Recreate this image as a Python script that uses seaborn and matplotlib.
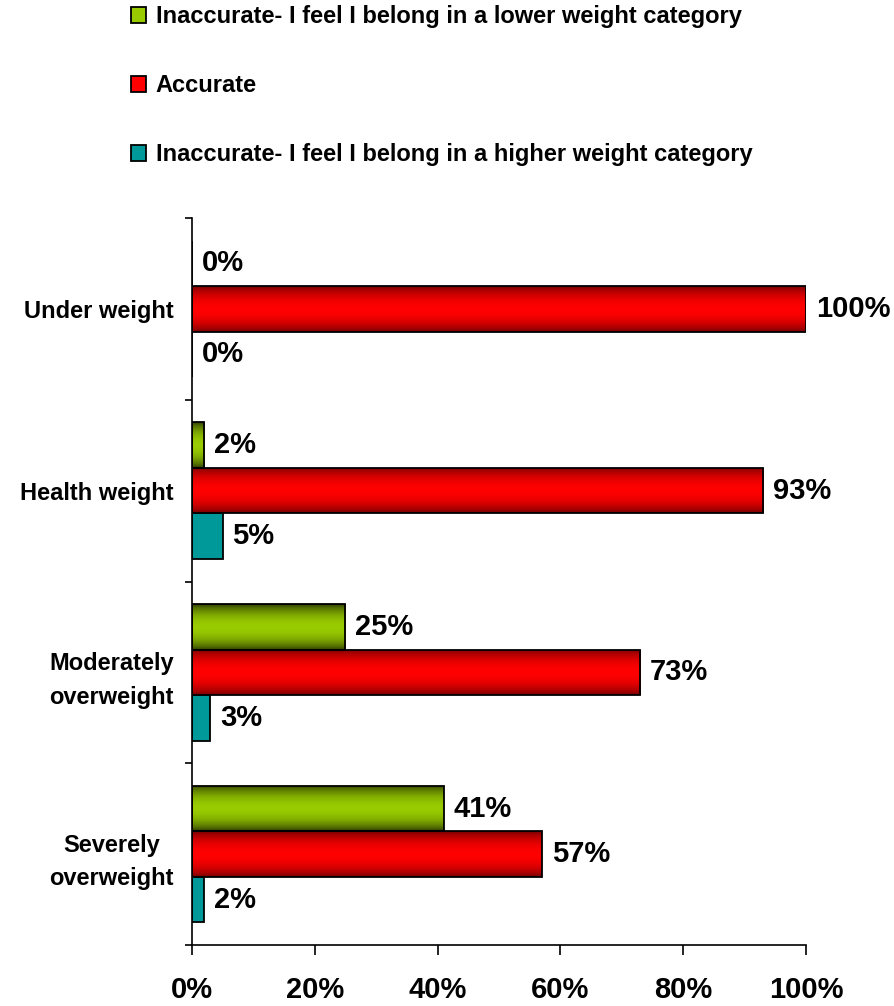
import numpy as np
import pandas as pd
import matplotlib
matplotlib.use('Agg')
import matplotlib.pyplot as plt
from matplotlib.patches import Patch
from matplotlib.ticker import FuncFormatter, FixedLocator
import seaborn as sns

# Data (percent of respondents)
categories = ['Under weight', 'Health weight', 'Moderately\noverweight', 'Severely\noverweight']
responses = ['Inaccurate- I feel I belong in a lower weight category',
             'Accurate',
             'Inaccurate- I feel I belong in a higher weight category']
lower_pct = [0, 2, 25, 41]
accurate_pct = [100, 93, 73, 57]
higher_pct = [0, 5, 3, 2]
x_ticks = [0, 20, 40, 60, 80, 100]

colors = ['#99CC00', '#FF0000', '#009999']
dark_edges = ['#2A3800', '#700000', None]   # gradient edge colours (None = flat)

df = pd.DataFrame({
    'category': categories * 3,
    'response': [responses[0]] * 4 + [responses[1]] * 4 + [responses[2]] * 4,
    'pct': lower_pct + accurate_pct + higher_pct,
})

sns.set_style('white')
plt.rcParams['font.family'] = ['Liberation Sans', 'DejaVu Sans']
plt.rcParams['font.weight'] = 'bold'
plt.rcParams['text.color'] = 'black'
plt.rcParams['xtick.color'] = 'black'
plt.rcParams['ytick.color'] = 'black'
plt.rcParams['axes.labelcolor'] = 'black'

fig = plt.figure(figsize=(8.95, 10.06), dpi=100)
ax = fig.add_axes([192 / 895, 1 - 945 / 1006, 614 / 895, 727 / 1006])

sns.barplot(data=df, y='category', x='pct', hue='response', hue_order=responses,
            order=categories, orient='h', palette=colors, saturation=1, width=0.75,
            edgecolor='black', linewidth=1.3, legend=False, ax=ax)

ax.set_xlim(0, 100)
ax.set_ylim(3.5, -0.5)


# cylinder-like shading on the green and red bars
def shade(c_edge, c_mid, n=64):
    t = np.linspace(0, 1, n)
    f = np.sin(np.pi * t) ** 0.7
    e = np.array(matplotlib.colors.to_rgb(c_edge))
    m = np.array(matplotlib.colors.to_rgb(c_mid))
    return (e[None, :] + (m - e)[None, :] * f[:, None])[:, None, :]


for cont, c_mid, c_edge in zip(ax.containers, colors, dark_edges):
    if c_edge is None:
        continue
    grad = shade(c_edge, c_mid)
    for bar in cont:
        w = bar.get_width()
        if w <= 0:
            continue
        x0, y0, h = bar.get_x(), bar.get_y(), bar.get_height()
        im = ax.imshow(grad, extent=(x0, x0 + w, y0 + h, y0), aspect='auto',
                       interpolation='bilinear', zorder=bar.get_zorder() + 0.1)
        im.set_clip_path(bar)
        bar.set_zorder(bar.get_zorder() + 0.2)
        bar.set_facecolor('none')

ax.set_xlim(0, 100)
ax.set_ylim(3.5, -0.5)

# value labels
for cont in ax.containers:
    ax.bar_label(cont, labels=[f'{v:.0f}%' for v in cont.datavalues], padding=7,
                 fontsize=21, fontweight='bold', color='black')

# axes styling
sns.despine(ax=ax, top=True, right=True)
for s in ['left', 'bottom']:
    ax.spines[s].set_linewidth(1.2)
    ax.spines[s].set_color('black')

ax.set_xticks(x_ticks)
ax.xaxis.set_major_formatter(FuncFormatter(lambda v, p: f'{v:.0f}%'))
ax.tick_params(axis='x', direction='out', length=7, width=1.2, pad=15,
               labelsize=21, bottom=True, labelcolor='black')
ax.tick_params(axis='y', which='major', length=0, pad=13, labelsize=17, left=False,
               labelcolor='black')
ax.yaxis.set_minor_locator(FixedLocator([-0.5, 0.5, 1.5, 2.5, 3.5]))
ax.tick_params(axis='y', which='minor', direction='out', length=5, width=1.2, left=True)
ax.set_xlabel('')
ax.set_ylabel('')

# legend stacked at the top
handles = [Patch(facecolor=c, edgecolor='black', linewidth=1.3) for c in colors]
fig.legend(handles, responses, loc='upper left', bbox_to_anchor=(131 / 895, 1 - 5 / 1006),
           frameon=False, prop={'weight': 'bold', 'size': 17}, labelcolor='black',
           handlelength=0.65, handleheight=0.65, handletextpad=0.4,
           labelspacing=1.95, borderpad=0, borderaxespad=0)

fig.canvas.draw()
ax.set_yticks(range(len(categories)))
ax.set_yticklabels(categories, fontweight='bold', fontsize=17, color='black')
for lbl in ax.get_yticklabels():
    lbl.set_multialignment('center')
    lbl.set_linespacing(1.6)

fig.savefig('out.png', dpi=100)
